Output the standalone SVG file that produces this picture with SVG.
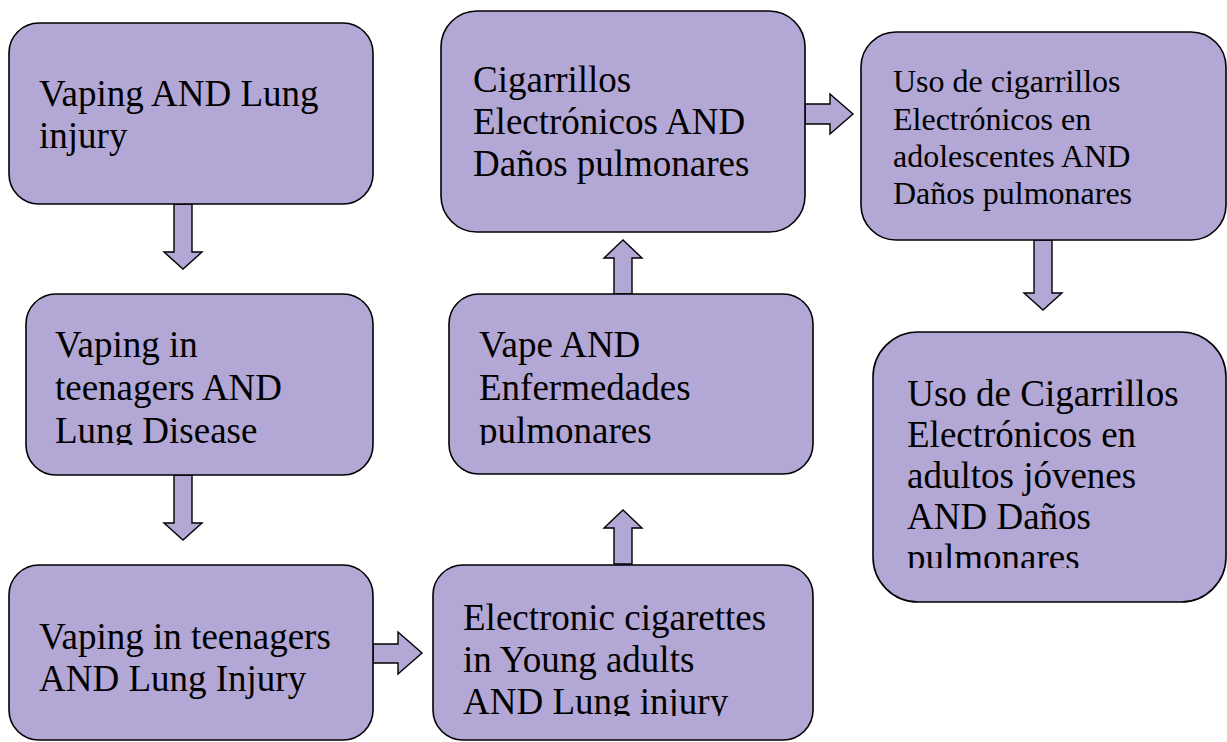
<svg xmlns="http://www.w3.org/2000/svg" width="1227" height="742" viewBox="0 0 1227 742">
<style>
.box{fill:#B3A7D5;stroke:#000;stroke-width:1.6}
.arr{fill:#B3A7D5;stroke:#000;stroke-width:1.4;stroke-linejoin:miter}
.t{font-family:"Liberation Serif","Times New Roman",serif;font-size:37px;fill:#000}
.s{font-size:32px}
</style>
<defs>
<clipPath id="c5"><rect x="0" y="290" width="420" height="155"/></clipPath>
<clipPath id="c7"><rect x="440" y="290" width="400" height="155"/></clipPath>
<clipPath id="c8"><rect x="430" y="560" width="400" height="156"/></clipPath>
<clipPath id="c4"><rect x="870" y="330" width="357" height="238"/></clipPath>
</defs>
<rect width="1227" height="742" fill="#fff"/>
<g id="connectors">
<polygon class="arr" points="174,204 192,204 192,252 202,252 183,269 164,252 174,252"/>
<polygon class="arr" points="174,475 192,475 192,523 202,523 183,540 164,523 174,523"/>
<polygon class="arr" points="373,644 398,644 398,632 422,653 398,674 398,663 373,663"/>
<polygon class="arr" points="614,564 632,564 632,528 642,528 623,510 604,528 614,528"/>
<polygon class="arr" points="614,294 632,294 632,258 642,258 623,240 604,258 614,258"/>
<polygon class="arr" points="805,104 830,104 830,94 853,114 830,134 830,124 805,124"/>
<polygon class="arr" points="1034,240 1052,240 1052,293 1062,293 1043,310 1024,293 1034,293"/>
</g>
<g id="n1">
<rect class="box" x="9" y="23" width="364" height="181" rx="30"/>
<text class="t" x="39" y="106">Vaping AND Lung</text>
<text class="t" x="39" y="148">injury</text>
</g>
<g id="n2">
<rect class="box" x="441" y="11" width="364" height="221" rx="36"/>
<text class="t" x="473" y="92">Cigarrillos</text>
<text class="t" x="473" y="134">Electrónicos AND</text>
<text class="t" x="473" y="176">Daños pulmonares</text>
</g>
<g id="n3">
<rect class="box" x="861" y="32" width="365" height="208" rx="35"/>
<text class="t s" x="893" y="92">Uso de cigarrillos</text>
<text class="t s" x="893" y="130">Electrónicos en</text>
<text class="t s" x="893" y="167">adolescentes AND</text>
<text class="t s" x="893" y="204">Daños pulmonares</text>
</g>
<g id="n4">
<rect class="box" x="873" y="332" width="353" height="270" rx="45"/>
<g clip-path="url(#c4)">
<text class="t" x="898" y="406" xml:space="preserve"> Uso de Cigarrillos</text>
<text class="t" x="907" y="447">Electrónicos en</text>
<text class="t" x="907" y="488">adultos jóvenes</text>
<text class="t" x="907" y="529">AND Daños</text>
<text class="t" x="907" y="570">pulmonares</text>
</g>
</g>
<g id="n5">
<rect class="box" x="26" y="294" width="347" height="181" rx="30"/>
<g clip-path="url(#c5)">
<text class="t" x="55" y="357">Vaping in</text>
<text class="t" x="55" y="400">teenagers AND</text>
<text class="t" x="55" y="443">Lung Disease</text>
</g>
</g>
<g id="n7">
<rect class="box" x="449" y="294" width="364" height="180" rx="30"/>
<g clip-path="url(#c7)">
<text class="t" x="479" y="357">Vape AND</text>
<text class="t" x="479" y="400">Enfermedades</text>
<text class="t" x="479" y="443">pulmonares</text>
</g>
</g>
<g id="n6">
<rect class="box" x="9" y="565" width="364" height="175" rx="30"/>
<text class="t" x="39" y="649">Vaping in teenagers</text>
<text class="t" x="39" y="691">AND Lung Injury</text>
</g>
<g id="n8">
<rect class="box" x="433" y="565" width="380" height="175" rx="30"/>
<g clip-path="url(#c8)">
<text class="t" x="463" y="630">Electronic cigarettes</text>
<text class="t" x="463" y="672">in Young adults</text>
<text class="t" x="463" y="714">AND Lung injury</text>
</g>
</g>
</svg>
